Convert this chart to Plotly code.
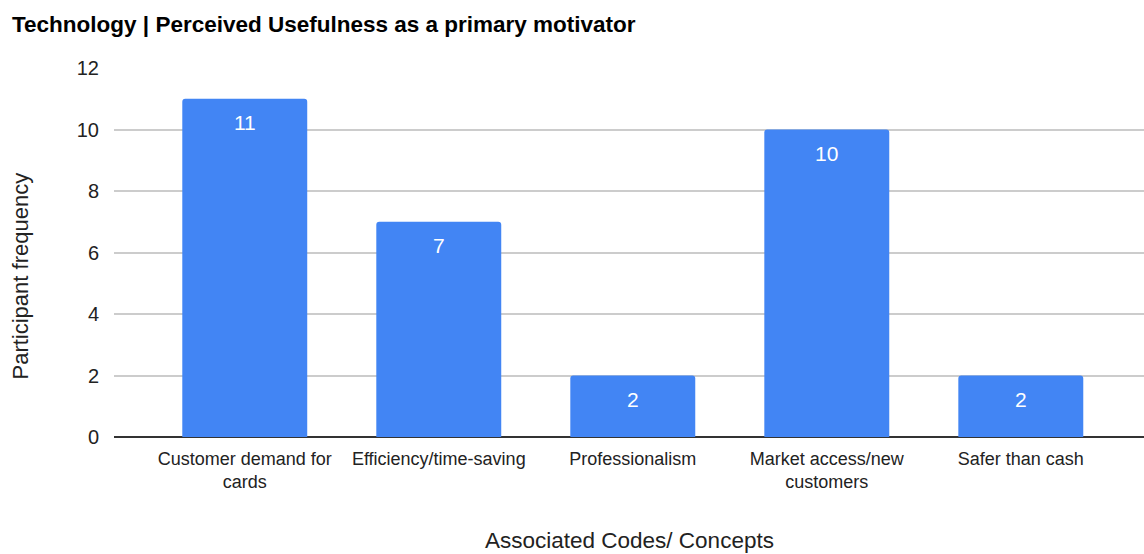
import plotly.graph_objects as go

categories = [
    "Customer demand for<br>cards",
    "Efficiency/time-saving",
    "Professionalism",
    "Market access/new<br>customers",
    "Safer than cash",
]
frequency = [11, 7, 2, 10, 2]
y_ticks = [0, 2, 4, 6, 8, 10, 12]

FONT = "Liberation Sans, Arial, sans-serif"
TEXT = "#222222"

xs = list(range(len(categories)))

fig = go.Figure(
    go.Bar(
        x=xs,
        y=frequency,
        width=0.644,
        marker=dict(color="#4285F4", line=dict(width=0), cornerradius=3),
        hoverinfo="x+y",
    )
)

# value labels sitting just inside the top of each bar
for x, v in zip(xs, frequency):
    fig.add_annotation(
        x=x, y=v, xref="x", yref="y",
        text=str(v), showarrow=False,
        yanchor="middle", yshift=-24,
        font=dict(color="white", size=21, family=FONT),
    )

# axis titles
fig.add_annotation(
    x=0.5, y=0, xref="paper", yref="paper",
    text="Associated Codes/ Concepts", showarrow=False,
    xanchor="center", yanchor="middle", yshift=-103,
    font=dict(size=22.5, color=TEXT, family=FONT),
)
fig.add_annotation(
    x=0, y=0.5, xref="paper", yref="paper",
    text="Participant frequency", showarrow=False, textangle=-90,
    xanchor="center", yanchor="middle", xshift=-94, yshift=-24,
    font=dict(size=22, color=TEXT, family=FONT),
)

fig.update_layout(
    width=1144,
    height=554,
    margin=dict(l=114, r=0, t=68, b=117),
    paper_bgcolor="white",
    plot_bgcolor="white",
    showlegend=False,
    font=dict(family=FONT, color=TEXT),
    title=dict(
        text="<b>Technology | Perceived Usefulness as a primary motivator</b>",
        x=0.0105,
        xanchor="left",
        y=0.957,
        yanchor="middle",
        font=dict(size=22.5, color="#000000", family=FONT),
    ),
)

fig.update_xaxes(
    tickmode="array",
    tickvals=xs,
    ticktext=categories,
    range=[-0.674, 4.635],
    showgrid=False,
    showline=False,
    zeroline=False,
    ticks="",
    ticklabelstandoff=9,
    tickfont=dict(size=18, color=TEXT),
)

fig.update_yaxes(
    range=[0, 12],
    tickmode="array",
    tickvals=y_ticks,
    showgrid=True,
    gridcolor="#cccccc",
    gridwidth=1.5,
    zeroline=True,
    zerolinecolor="#333333",
    zerolinewidth=1.5,
    showline=False,
    ticks="",
    ticklabelstandoff=14,
    tickfont=dict(size=20, color=TEXT),
)

fig.write_html("out.html")
